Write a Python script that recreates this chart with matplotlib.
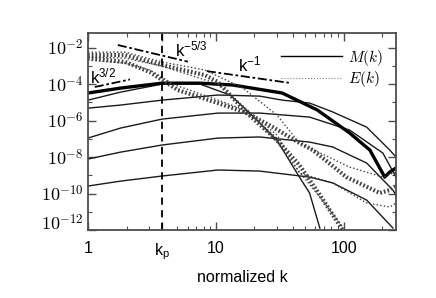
import matplotlib
matplotlib.use("Agg")
import matplotlib.pyplot as plt
from matplotlib.lines import Line2D
from matplotlib.ticker import FixedLocator, FixedFormatter, NullFormatter

plt.rcParams['font.family'] = ['Liberation Sans', 'DejaVu Sans']
plt.rcParams['mathtext.fontset'] = 'cm'

# magnetic spectra M(k), log10 values
m_thick_k = [1, 1.8, 3.8, 7.5, 13.5, 33, 62, 111, 160, 209, 229, 256]
m_thick = [-4.49, -4.22, -3.95, -3.95, -4.05, -4.49, -5.42, -6.68, -7.62, -9.10, -8.82, -8.60]

m2_k = [1, 1.8, 3.8, 7.5, 12.9, 18.4, 30, 45, 54, 65]
m2 = [-4.88, -4.44, -4.0, -4.0, -4.60, -5.59, -7.07, -9.10, -9.97, -11.9]

m3_k = [1, 1.8, 3.8, 10.4, 22, 33, 54, 82, 151, 229, 256]
m3 = [-5.32, -5.15, -4.88, -4.60, -4.66, -4.88, -5.04, -5.53, -6.36, -7.62, -8.0]

m4_k = [1, 1.8, 3.8, 10.4, 22, 54, 111, 202, 256]
m4 = [-6.96, -6.41, -5.92, -5.59, -5.59, -5.81, -6.52, -7.78, -9.10]

m5_k = [1, 1.8, 3.8, 10.4, 22, 54, 82, 151, 242, 256]
m5 = [-8.11, -7.73, -7.34, -6.96, -6.90, -7.18, -7.45, -8.33, -9.81, -10.08]

m6_k = [1, 1.8, 3.8, 10.4, 22, 54, 82, 151, 242]
m6 = [-9.59, -9.32, -9.04, -8.71, -8.77, -9.10, -9.42, -10.36, -11.89]

# kinetic spectra E(k)
ea_k = [1, 1.95, 3.05, 5.05, 10.4, 17.5, 27.9, 45, 57.3, 105, 191, 229, 256]
ea = [-2.58, -2.79, -3.34, -4.33, -5.04, -5.59, -6.36, -7.23, -7.62, -9.10, -9.97, -9.81, -9.59]

eb_k = [1, 1.95, 3.8, 8.2, 10.4, 17.5, 30, 45, 65, 98]
eb = [-2.41, -2.41, -2.96, -3.51, -3.89, -5.59, -7.07, -8.44, -10.08, -12.0]

e1_k = [1, 1.95, 3.8, 8.2, 16.3, 30, 45, 111, 202, 256]
e1 = [-2.25, -2.25, -2.79, -3.23, -4.22, -5.70, -7.23, -8.55, -9.10, -8.82]

e2_k = [1, 1.95, 3.05, 4.78, 10.4, 18.4, 30, 45, 82, 151, 229, 256]
e2 = [-2.68, -2.85, -3.23, -4.05, -4.88, -5.53, -6.79, -8.88, -9.42, -10.52, -10.74, -10.52]

e3_k = [1, 1.95, 3.8, 10.4, 18.4, 30, 45, 65, 98]
e3 = [-2.52, -2.58, -3.01, -4.0, -5.53, -7.18, -8.82, -10.19, -11.84]

# power-law guides: slope, log10 amplitude, k range
guide_slopes = [1.5, -5 / 3, -1.0]
guide_amps = [-4.24, -1.47, -2.36]
guide_k0 = [1.13, 1.71, 8.5]
guide_k1 = [2.13, 6.04, 37.2]
guide_labels = [r'$\mathregular{k^{3/2}}$', r'$\mathregular{k^{-5/3}}$', r'$\mathregular{k^{-1}}$']
guide_label_k = [1.04, 4.78, 14.9]
guide_label_y = [-3.95, -2.47, -3.29]

kp = 3.8
xtick_vals = [1, kp, 10, 100]
xtick_labels = ['1', r'$\mathregular{k_p}$', '10', '100']
ytick_exps = [-12, -10, -8, -6, -4, -2]


def lin(vals):
    return [10 ** v for v in vals]


fig = plt.figure(figsize=(4.36, 2.98), dpi=100)
ax = fig.add_axes([88 / 436, 1 - 230 / 298, 308 / 436, 197 / 298])
ax.set_xscale('log')
ax.set_yscale('log')

for kk, vv in [(m2_k, m2), (m3_k, m3), (m4_k, m4), (m5_k, m5), (m6_k, m6)]:
    ax.plot(kk, lin(vv), color='0.1', lw=1.0)
ax.plot(m_thick_k, lin(m_thick), color='k', lw=2.4)

for kk, vv in [(e1_k, e1), (e2_k, e2), (e3_k, e3)]:
    ax.plot(kk, lin(vv), color='0.25', lw=1.0, ls=(0, (1, 1.6)))
for kk, vv in [(ea_k, ea), (eb_k, eb)]:
    ax.plot(kk, lin(vv), color='0.25', lw=3.0, ls=(0, (0.4, 0.5)))

for s, a, k0, k1, lab, lk, ly in zip(guide_slopes, guide_amps, guide_k0, guide_k1,
                                     guide_labels, guide_label_k, guide_label_y):
    ax.plot([k0, k1], [10 ** a * k0 ** s, 10 ** a * k1 ** s], color='k', lw=1.3,
            ls=(0, (5, 1.5, 1.5, 1.5)))
    ax.text(lk, 10 ** ly, lab, fontsize=12, ha='left', va='baseline')

ax.axvline(kp, color='k', lw=1.3, ls=(0, (4, 3)))

ax.set_xlim(1, 256)
ax.set_ylim(1e-12, 10 ** -1.2)

ax.xaxis.set_major_locator(FixedLocator(xtick_vals))
ax.xaxis.set_major_formatter(FixedFormatter(xtick_labels))
ax.xaxis.set_minor_locator(FixedLocator([2, 3, 5, 6, 7, 8, 9, 20, 30, 40, 50, 60, 70, 80, 90, 200]))
ax.xaxis.set_minor_formatter(NullFormatter())
ax.yaxis.set_major_locator(FixedLocator([10.0 ** e for e in ytick_exps]))
ax.yaxis.set_major_formatter(FixedFormatter([r'$10^{%d}$' % e for e in ytick_exps]))
ax.yaxis.set_minor_locator(FixedLocator([10.0 ** e for e in range(-11, -1, 2)]))
ax.yaxis.set_minor_formatter(NullFormatter())

ax.tick_params(which='both', direction='in', top=True, right=True, color='0.3')
ax.tick_params(which='major', length=6, width=1)
ax.tick_params(which='minor', length=3, width=0.8)
ax.tick_params(axis='x', labelsize=11.5, pad=8)
ax.tick_params(axis='y', labelsize=13, pad=3)
for sp in ax.spines.values():
    sp.set_linewidth(1.3)
    sp.set_color('0.3')

ylabs = ax.get_yticklabels()
ylabs[0].set_verticalalignment('baseline')

ax.set_xlabel('normalized k', fontsize=11.5, labelpad=6)

handles = [Line2D([], [], color='k', lw=1.0),
           Line2D([], [], color='0.5', lw=0.8, ls=':')]
ax.legend(handles, [r'$M(k)$', r'$E(k)$'], loc='upper right',
          bbox_to_anchor=(0.958, 0.925), frameon=False, fontsize=11,
          handlelength=4.0, handletextpad=0.4, labelspacing=0.1,
          borderpad=0, borderaxespad=0)

fig.savefig('out.png', dpi=100)
